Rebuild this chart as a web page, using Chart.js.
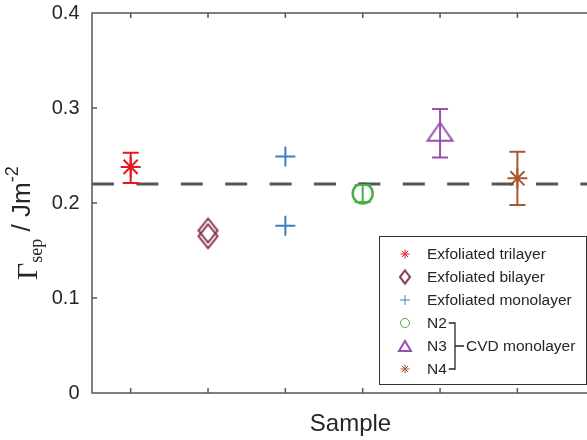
<!DOCTYPE html>
<html>
<head>
<meta charset="utf-8">
<script src="https://cdn.jsdelivr.net/npm/chart.js@4.4.1/dist/chart.umd.min.js"></script>
<style>
  html, body { margin: 0; padding: 0; background: #fff; overflow: hidden; }
</style>
</head>
<body>
<canvas id="chart" width="587" height="440"></canvas>
<script>
// values
const seriesNames = ['Exfoliated trilayer', 'Exfoliated bilayer', 'Exfoliated monolayer', 'N2', 'N3', 'N4'];
const samplePos = [1, 2, 3, 4, 5, 6];
const trilayer = [0.238];
const bilayer = [0.171, 0.165];
const monolayer = [0.249, 0.176];
const cvdN2 = [0.210];
const cvdN3 = [0.275];
const cvdN4 = [0.226];
const errLow = [0.221, null, null, 0.201, 0.248, 0.198];
const errHigh = [0.253, null, null, 0.219, 0.299, 0.254];
const refLine = 0.22;
const yTicks = [0, 0.1, 0.2, 0.3, 0.4];

const colors = ['#e3191f', '#82304f', '#3a80c0', '#4cae4a', '#9a4fb0', '#a8582b'];
const SANS = '"Liberation Sans", Arial, sans-serif';
const SERIF = '"Liberation Serif", "Times New Roman", serif';
const TEXT = '#262626';

// outline markers that chart.js has no exact shape for
function shapeCanvas(kind, w, h, color, lw) {
  const c = document.createElement('canvas');
  c.width = Math.round(w + lw * 3);
  c.height = Math.round(h + lw * 3);
  const g = c.getContext('2d');
  const cx = c.width / 2, cy = c.height / 2;
  g.strokeStyle = color;
  g.lineWidth = lw;
  g.beginPath();
  if (kind === 'diamond') {
    g.moveTo(cx, cy - h / 2);
    g.lineTo(cx + w / 2, cy);
    g.lineTo(cx, cy + h / 2);
    g.lineTo(cx - w / 2, cy);
  } else {
    g.moveTo(cx, cy - h / 2);
    g.lineTo(cx + w / 2, cy + h / 2);
    g.lineTo(cx - w / 2, cy + h / 2);
  }
  g.closePath();
  g.stroke();
  return c;
}

const diamondBig = shapeCanvas('diamond', 19, 24, colors[1], 2);
const triangleBig = shapeCanvas('triangle', 25, 18, colors[4], 2);
const diamondSmall = shapeCanvas('diamond', 10, 13, colors[1], 2);
const triangleSmall = shapeCanvas('triangle', 12, 10, colors[4], 2);

const pts = (x, ys) => ys.map(y => ({ x, y }));

function series(i, ys, style, radius, bw) {
  return {
    label: seriesNames[i],
    data: pts(samplePos[i], ys),
    showLine: false,
    pointStyle: style,
    pointRadius: radius,
    pointBorderColor: colors[i],
    pointBackgroundColor: 'rgba(0,0,0,0)',
    pointBorderWidth: bw,
    order: 1
  };
}

const legendMarks = [
  { style: 'star', r: 4.5, bw: 2.2 },
  { style: diamondSmall, r: 5, bw: 0 },
  { style: 'cross', r: 5, bw: 2 },
  { style: 'circle', r: 4.5, bw: 2 },
  { style: triangleSmall, r: 5, bw: 0 },
  { style: 'star', r: 4.5, bw: 2.2 }
];

// keep the plot box where the figure has it
function noPad(s) {
  s.paddingTop = 0; s.paddingBottom = 0;
  s.paddingLeft = 0; s.paddingRight = 0;
}

const decor = {
  id: 'decor',
  afterDatasetsDraw(chart) {
    const ctx = chart.ctx;
    const xs = chart.scales.x, ys = chart.scales.y;
    ctx.save();
    ctx.lineWidth = 2;
    errLow.forEach((lo, i) => {
      if (lo === null) return;
      const px = xs.getPixelForValue(samplePos[i]);
      const pLo = ys.getPixelForValue(lo);
      const pHi = ys.getPixelForValue(errHigh[i]);
      ctx.strokeStyle = colors[i];
      ctx.beginPath();
      ctx.moveTo(px, pLo); ctx.lineTo(px, pHi);
      ctx.moveTo(px - 8, pLo); ctx.lineTo(px + 8, pLo);
      ctx.moveTo(px - 8, pHi); ctx.lineTo(px + 8, pHi);
      ctx.stroke();
    });
    ctx.restore();
  },
  afterDraw(chart) {
    const ctx = chart.ctx;
    const { left, right, top, bottom } = chart.chartArea;
    const xs = chart.scales.x, ys = chart.scales.y;
    ctx.save();

    // box (the right side lies outside the picture)
    ctx.strokeStyle = '#555';
    ctx.lineWidth = 1.5;
    ctx.beginPath();
    ctx.moveTo(right, top); ctx.lineTo(left, top);
    ctx.lineTo(left, bottom); ctx.lineTo(right, bottom);
    yTicks.forEach(v => {
      const py = ys.getPixelForValue(v);
      ctx.moveTo(left, py); ctx.lineTo(left + 5, py);
    });
    samplePos.forEach(v => {
      const px = xs.getPixelForValue(v);
      ctx.moveTo(px, bottom); ctx.lineTo(px, bottom - 5);
      ctx.moveTo(px, top); ctx.lineTo(px, top + 5);
    });
    ctx.stroke();

    // x title
    ctx.fillStyle = TEXT;
    ctx.font = '24px ' + SANS;
    ctx.textAlign = 'center';
    ctx.textBaseline = 'alphabetic';
    ctx.fillText('Sample', 350.5, 431);

    // y title, rotated
    ctx.save();
    ctx.translate(30, 280);
    ctx.rotate(-Math.PI / 2);
    ctx.textAlign = 'left';
    const parts = [
      { t: '\u0393', f: '30px ' + SERIF, dy: 7 },
      { t: 'sep', f: '18px ' + SERIF, dy: 12 },
      { t: ' / Jm', f: '26px ' + SANS, dy: 0 },
      { t: '-2', f: '18px ' + SANS, dy: -12 }
    ];
    let u = 0;
    parts.forEach(p => {
      ctx.font = p.f;
      ctx.fillText(p.t, u, p.dy);
      u += ctx.measureText(p.t).width;
    });
    ctx.restore();

    // legend
    const bx = 379, by = 236, bw = 207, bh = 148;
    ctx.fillStyle = '#fff';
    ctx.fillRect(bx, by, bw, bh);
    ctx.strokeStyle = '#333';
    ctx.lineWidth = 1;
    ctx.strokeRect(bx + 0.5, by + 0.5, bw, bh);
    const rowY = i => 254 + i * 23;
    ctx.font = '15.5px ' + SANS;
    ctx.textAlign = 'left';
    ctx.textBaseline = 'middle';
    seriesNames.forEach((name, i) => {
      const m = legendMarks[i];
      ctx.strokeStyle = colors[i];
      ctx.fillStyle = 'rgba(0,0,0,0)';
      Chart.helpers.drawPoint(ctx, { pointStyle: m.style, radius: m.r, borderWidth: m.bw, rotation: 0 }, 405, rowY(i));
      ctx.fillStyle = TEXT;
      ctx.fillText(name, 427, rowY(i) + 1);
    });
    // bracket grouping the CVD samples
    const n2End = 427 + ctx.measureText('N2').width;
    ctx.strokeStyle = TEXT;
    ctx.lineWidth = 1.3;
    ctx.beginPath();
    ctx.moveTo(n2End + 2, rowY(3)); ctx.lineTo(455, rowY(3));
    ctx.lineTo(455, rowY(5)); ctx.lineTo(n2End + 2, rowY(5));
    ctx.moveTo(455, rowY(4)); ctx.lineTo(464, rowY(4));
    ctx.stroke();
    ctx.fillStyle = TEXT;
    ctx.fillText('CVD monolayer', 466, rowY(4) + 1);

    ctx.restore();
  }
};

new Chart(document.getElementById('chart'), {
  type: 'scatter',
  data: {
    datasets: [
      {
        label: 'reference',
        type: 'line',
        data: [{ x: 0.5, y: refLine }, { x: 6.9, y: refLine }],
        borderColor: '#555',
        borderWidth: 3,
        borderDash: [22, 22.4],
        pointRadius: 0,
        order: 0
      },
      series(0, trilayer, 'star', 10, 2),
      series(1, bilayer, diamondBig, 12, 0),
      series(2, monolayer, 'cross', 10, 2),
      series(3, cvdN2, 'circle', 10, 2.5),
      series(4, cvdN3, triangleBig, 12, 0),
      series(5, cvdN4, 'star', 10, 2)
    ]
  },
  options: {
    responsive: false,
    animation: false,
    devicePixelRatio: 1,
    events: [],
    layout: { autoPadding: false, padding: { top: 13, left: 0, right: 0, bottom: 0 } },
    plugins: {
      legend: { display: false },
      tooltip: { enabled: false }
    },
    scales: {
      x: {
        type: 'linear',
        min: 0.5,
        max: 6.9,
        grid: { display: false },
        border: { display: false },
        ticks: { display: false },
        afterFit: s => { s.height = 47; noPad(s); }
      },
      y: {
        type: 'linear',
        min: 0,
        max: 0.4,
        grid: { display: false, drawTicks: false },
        border: { display: false },
        afterBuildTicks: s => { s.ticks = yTicks.map(v => ({ value: v })); },
        afterFit: s => { s.width = 92; noPad(s); },
        ticks: {
          padding: 12.5,
          color: TEXT,
          font: { family: SANS, size: 20 },
          callback: v => (v === 0 ? '0' : v.toFixed(1))
        }
      }
    }
  },
  plugins: [decor]
});
</script>
</body>
</html>
